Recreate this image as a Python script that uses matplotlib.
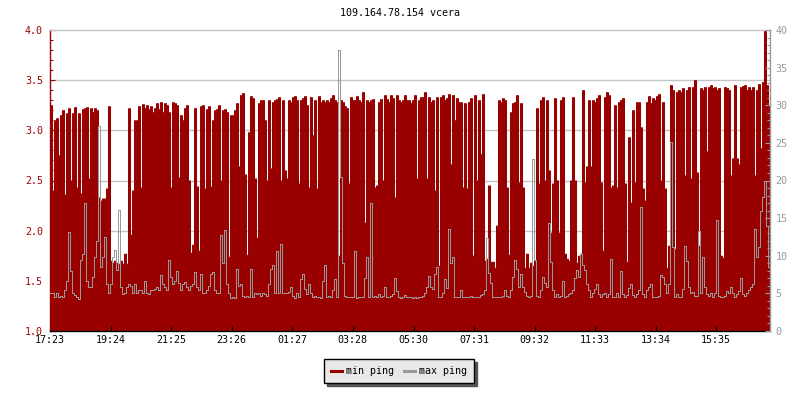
import numpy as np
import matplotlib
matplotlib.use('Agg')
import matplotlib.pyplot as plt
from matplotlib.lines import Line2D
from matplotlib.ticker import MultipleLocator

# ping of 109.164.78.154 over one day, one sample every 4 minutes
title = '109.164.78.154 vcera'
start_time = '17:23'
step_min = 4
tick_labels = ['17:23', '19:24', '21:25', '23:26', '01:27', '03:28',
               '05:30', '07:31', '09:32', '11:33', '13:34', '15:35']

# min ping (left axis)
min_ping = [
    3.25, 2.40, 3.10, 3.12, 2.75, 3.15, 3.20, 2.36, 3.17, 3.22,
    2.50, 3.17, 3.23, 2.43, 3.17, 2.37, 3.21, 3.22, 3.23, 2.52,
    3.22, 3.18, 3.22, 3.20, 2.33, 2.30, 2.32, 2.32, 2.42, 3.24,
    1.70, 1.68, 1.70, 1.68, 1.67, 1.70, 1.67, 1.77, 1.67, 3.22,
    1.96, 2.40, 3.10, 3.10, 3.24, 2.43, 3.26, 3.22, 3.25, 3.21,
    3.24, 3.18, 3.22, 3.27, 3.21, 3.28, 3.18, 3.27, 3.25, 3.18,
    2.43, 3.28, 3.27, 3.25, 2.53, 3.15, 3.10, 3.22, 3.25, 2.50,
    1.78, 1.86, 3.22, 2.44, 1.80, 3.24, 3.25, 2.42, 3.21, 3.24,
    2.44, 3.10, 3.20, 3.21, 3.25, 2.50, 3.20, 3.21, 3.18, 1.74,
    3.15, 3.15, 3.20, 3.27, 2.64, 3.35, 3.37, 2.56, 1.76, 2.98,
    3.34, 3.32, 2.52, 1.93, 3.27, 3.30, 3.30, 3.10, 2.50, 3.30,
    2.62, 3.28, 3.30, 3.31, 3.33, 2.50, 3.30, 2.60, 2.52, 3.30,
    3.28, 3.33, 3.34, 3.30, 2.47, 3.30, 3.32, 3.34, 3.25, 2.43,
    3.33, 2.95, 3.30, 2.42, 3.34, 3.28, 3.30, 3.28, 3.30, 3.28,
    3.32, 3.35, 3.30, 3.28, 1.75, 3.30, 3.28, 3.24, 3.22, 2.47,
    3.33, 3.30, 3.30, 3.34, 3.30, 3.28, 3.38, 2.08, 3.30, 3.28,
    3.30, 3.31, 2.43, 2.45, 3.28, 3.31, 2.50, 3.35, 3.31, 3.28,
    3.35, 3.32, 2.33, 3.35, 3.30, 3.28, 3.30, 3.35, 3.30, 3.30,
    3.27, 3.30, 3.35, 2.52, 3.30, 3.33, 3.33, 3.38, 2.52, 3.33,
    3.28, 3.30, 2.40, 3.33, 1.65, 3.33, 3.35, 3.30, 3.32, 3.36,
    2.66, 3.35, 3.10, 3.32, 3.28, 3.28, 2.43, 3.27, 2.42, 3.28,
    3.32, 1.75, 3.35, 2.50, 3.30, 2.76, 3.36, 1.70, 1.72, 2.45,
    1.69, 1.69, 1.63, 2.05, 3.30, 3.28, 3.32, 3.30, 2.43, 1.76,
    3.18, 3.27, 3.28, 3.35, 2.48, 3.27, 2.43, 1.63, 1.77, 1.63,
    1.68, 1.65, 1.70, 3.22, 2.47, 3.30, 3.33, 2.50, 3.30, 2.60,
    1.98, 2.47, 3.32, 2.50, 1.98, 3.30, 3.33, 1.77, 1.72, 1.70,
    2.50, 3.33, 2.50, 1.68, 1.75, 1.77, 3.40, 2.48, 2.64, 3.30,
    2.64, 3.30, 3.28, 3.32, 3.35, 2.48, 1.80, 3.33, 3.38, 3.35,
    2.43, 2.45, 3.25, 2.43, 3.28, 3.30, 3.32, 2.47, 1.69, 2.93,
    2.28, 3.20, 2.48, 3.28, 3.28, 3.03, 2.42, 2.30, 3.28, 3.34,
    3.27, 3.32, 3.30, 3.34, 3.36, 2.50, 3.28, 2.42, 1.63, 1.85,
    3.45, 3.40, 1.82, 3.38, 3.40, 3.38, 3.42, 2.55, 3.40, 3.43,
    2.52, 3.43, 3.50, 2.58, 1.85, 3.42, 3.40, 3.43, 2.79, 3.43,
    3.45, 3.42, 3.43, 3.40, 3.42, 1.75, 1.73, 3.43, 3.42, 3.40,
    2.55, 2.72, 3.45, 2.72, 2.66, 3.43, 3.44, 3.45, 3.40, 3.43,
    3.40, 3.43, 2.55, 3.40, 3.46, 2.82, 3.48, 4.00, 3.45, 3.25,
]

# max ping (right axis)
max_ping = [
    5.1, 5.0, 4.5, 5.0, 4.5, 4.6, 4.5, 5.4, 6.7, 13.2,
    8.0, 5.1, 4.8, 4.5, 4.3, 9.4, 10.2, 17.0, 6.7, 5.8,
    5.8, 7.2, 9.9, 12.0, 27.2, 8.5, 9.8, 12.5, 6.3, 5.1,
    6.3, 9.8, 10.7, 8.1, 16.1, 5.8, 4.9, 5.0, 5.8, 6.3,
    6.0, 5.1, 6.3, 5.1, 5.4, 5.4, 5.1, 6.7, 5.1, 4.9,
    5.4, 5.4, 5.6, 5.8, 5.4, 7.4, 6.2, 5.8, 5.4, 9.4,
    7.2, 6.3, 6.7, 8.0, 6.4, 5.4, 6.3, 6.5, 5.8, 5.4,
    6.0, 6.3, 7.9, 5.8, 5.4, 7.6, 5.1, 5.1, 5.4, 6.0,
    7.6, 7.9, 5.4, 5.1, 5.1, 12.8, 9.0, 13.4, 6.3, 5.1,
    4.4, 4.5, 4.4, 8.2, 6.0, 6.3, 4.6, 4.5, 4.6, 4.5,
    8.2, 4.5, 5.0, 4.9, 5.1, 4.7, 5.0, 4.9, 4.7, 6.3,
    8.2, 8.8, 5.1, 10.6, 5.0, 11.5, 5.1, 5.0, 5.0, 5.2,
    5.8, 4.7, 4.4, 5.0, 4.5, 6.9, 7.6, 5.6, 4.9, 6.3,
    5.0, 4.5, 4.6, 4.5, 4.5, 4.4, 6.7, 8.8, 4.5, 4.6,
    4.5, 5.4, 6.9, 4.5, 37.3, 20.5, 9.0, 4.6, 4.5, 4.5,
    4.5, 4.5, 10.6, 4.4, 4.5, 4.5, 4.5, 7.0, 9.8, 4.5,
    17.0, 4.5, 4.6, 4.5, 4.9, 4.5, 4.6, 5.8, 4.5, 4.5,
    4.6, 4.9, 7.0, 5.3, 4.5, 4.4, 4.5, 4.8, 4.5, 4.5,
    4.5, 4.4, 4.5, 4.4, 4.5, 4.5, 4.7, 5.1, 5.9, 7.3,
    5.9, 5.6, 7.6, 8.5, 4.5, 4.5, 5.0, 6.9, 5.7, 13.6,
    9.0, 9.8, 4.5, 4.5, 4.5, 5.5, 4.5, 4.5, 4.5, 4.5,
    4.6, 4.5, 4.5, 4.5, 4.5, 4.8, 4.9, 5.5, 12.3, 7.7,
    6.4, 4.5, 4.5, 4.5, 4.5, 4.5, 4.7, 5.4, 4.6, 4.5,
    5.5, 7.2, 9.5, 8.2, 5.8, 7.6, 5.9, 5.2, 4.7, 4.5,
    4.6, 22.9, 9.5, 4.6, 4.5, 5.5, 7.2, 6.4, 5.8, 14.4,
    9.2, 5.4, 4.5, 4.9, 4.5, 4.6, 6.7, 4.5, 4.6, 4.9,
    5.1, 5.4, 7.1, 8.1, 7.2, 10.2, 8.8, 8.1, 6.3, 5.4,
    4.5, 5.0, 5.6, 6.3, 4.9, 4.5, 4.9, 5.1, 4.5, 4.9,
    9.6, 4.5, 4.5, 5.0, 4.5, 8.0, 4.9, 4.5, 4.8, 5.7,
    6.3, 4.8, 4.5, 4.9, 5.4, 16.5, 4.9, 4.5, 5.4, 5.8,
    6.3, 4.5, 4.5, 4.5, 4.6, 7.4, 7.2, 6.3, 5.0, 6.3,
    25.1, 11.2, 4.5, 4.9, 4.5, 4.5, 5.6, 11.3, 9.3, 5.8,
    5.0, 5.2, 4.7, 4.6, 13.3, 5.0, 9.8, 5.8, 4.9, 4.6,
    5.0, 4.5, 5.0, 14.7, 4.6, 4.5, 4.5, 4.6, 5.3, 5.0,
    5.8, 5.1, 4.5, 4.9, 5.3, 7.1, 4.9, 4.7, 5.1, 5.4,
    5.8, 6.3, 13.5, 9.8, 11.2, 16.0, 17.8, 20.0, 14.0, 8.5,
]

RED = '#990000'
RED_TEXT = '#a00000'
GRAY = '#999999'
GRID = '#c4c4c4'

plt.rcParams['font.family'] = 'DejaVu Sans Mono'
plt.rcParams['font.size'] = 7.2


def to_minutes(s):
    h, m = s.split(':')
    return int(h) * 60 + int(m)


t0 = to_minutes(start_time)
tick_pos = [(to_minutes(s) - t0) % 1440 for s in tick_labels]

t = np.arange(len(min_ping) + 1) * step_min
lo = np.append(min_ping, min_ping[-1])
hi = np.append(max_ping, max_ping[-1])

fig = plt.figure(figsize=(8, 4), dpi=100)
ax = fig.add_axes([50 / 800, 69 / 400, 720 / 800, 301 / 400])

ax.set_xlim(0, 1440)
ax.set_ylim(1.0, 4.0)
# a thin red edge keeps the white gaps between samples narrow, like rrdtool
ax.fill_between(t, 1.0, lo, step='post', facecolor=RED, edgecolor=RED,
                lw=0.75, zorder=1)

# left axis
ax.yaxis.set_major_locator(MultipleLocator(0.5))
ax.yaxis.set_minor_locator(MultipleLocator(0.1))
ax.yaxis.set_major_formatter('{x:.1f}')
ax.tick_params(axis='y', which='major', direction='in', length=3.6,
               width=0.8, color=RED, labelcolor=RED_TEXT, pad=5)
ax.tick_params(axis='y', which='minor', direction='in', length=2.2,
               width=0.8, color=RED)
ax.set_xticks(tick_pos, tick_labels)
ax.tick_params(axis='x', direction='in', length=3.6, width=0.8,
               color='black', pad=3)

for y in ax.get_yticks():
    if 1.0 < y < 4.0:
        ax.axhline(y, color=GRID, lw=1, zorder=0.5)

ax.spines['left'].set_color(RED)
ax.spines['top'].set_color(GRID)
ax.spines['right'].set_visible(False)
ax.spines['bottom'].set_color('black')
for s in ax.spines.values():
    s.set_linewidth(1)

# right axis
ax2 = ax.twinx()
ax2.set_ylim(0, 40)
ax2.step(t, hi, where='post', color=GRAY, lw=0.5, antialiased=False)
ax2.yaxis.set_major_locator(MultipleLocator(5))
ax2.yaxis.set_minor_locator(MultipleLocator(1))
ax2.tick_params(axis='y', which='major', direction='in', length=3.6,
                width=0.8, color=GRAY, labelcolor=GRAY, pad=4)
ax2.tick_params(axis='y', which='minor', direction='in', length=2.2,
                width=0.8, color=GRAY)
for name in ['left', 'top', 'bottom']:
    ax2.spines[name].set_visible(False)
ax2.spines['right'].set_color(GRAY)
ax2.spines['right'].set_linewidth(1)

fig.text(0.5, 1 - 13 / 400, title, ha='center', va='center')

handles = [Line2D([], [], color=RED, lw=2.2), Line2D([], [], color=GRAY, lw=2.2)]
leg = fig.legend(handles, ['min ping', 'max ping'], loc='upper center',
                 bbox_to_anchor=(399 / 800, 1 - 359 / 400), ncol=2,
                 frameon=True, fancybox=False, edgecolor='black',
                 facecolor='#e8e8e8', framealpha=1,
                 shadow={'ox': 2.2, 'oy': -2.2, 'facecolor': '#555555',
                         'edgecolor': '#555555', 'alpha': 1},
                 handlelength=1.1, handletextpad=0.4, columnspacing=1.0,
                 borderpad=0.7, borderaxespad=0)
leg.get_frame().set_linewidth(1)

fig.savefig('out.png', dpi=100)
